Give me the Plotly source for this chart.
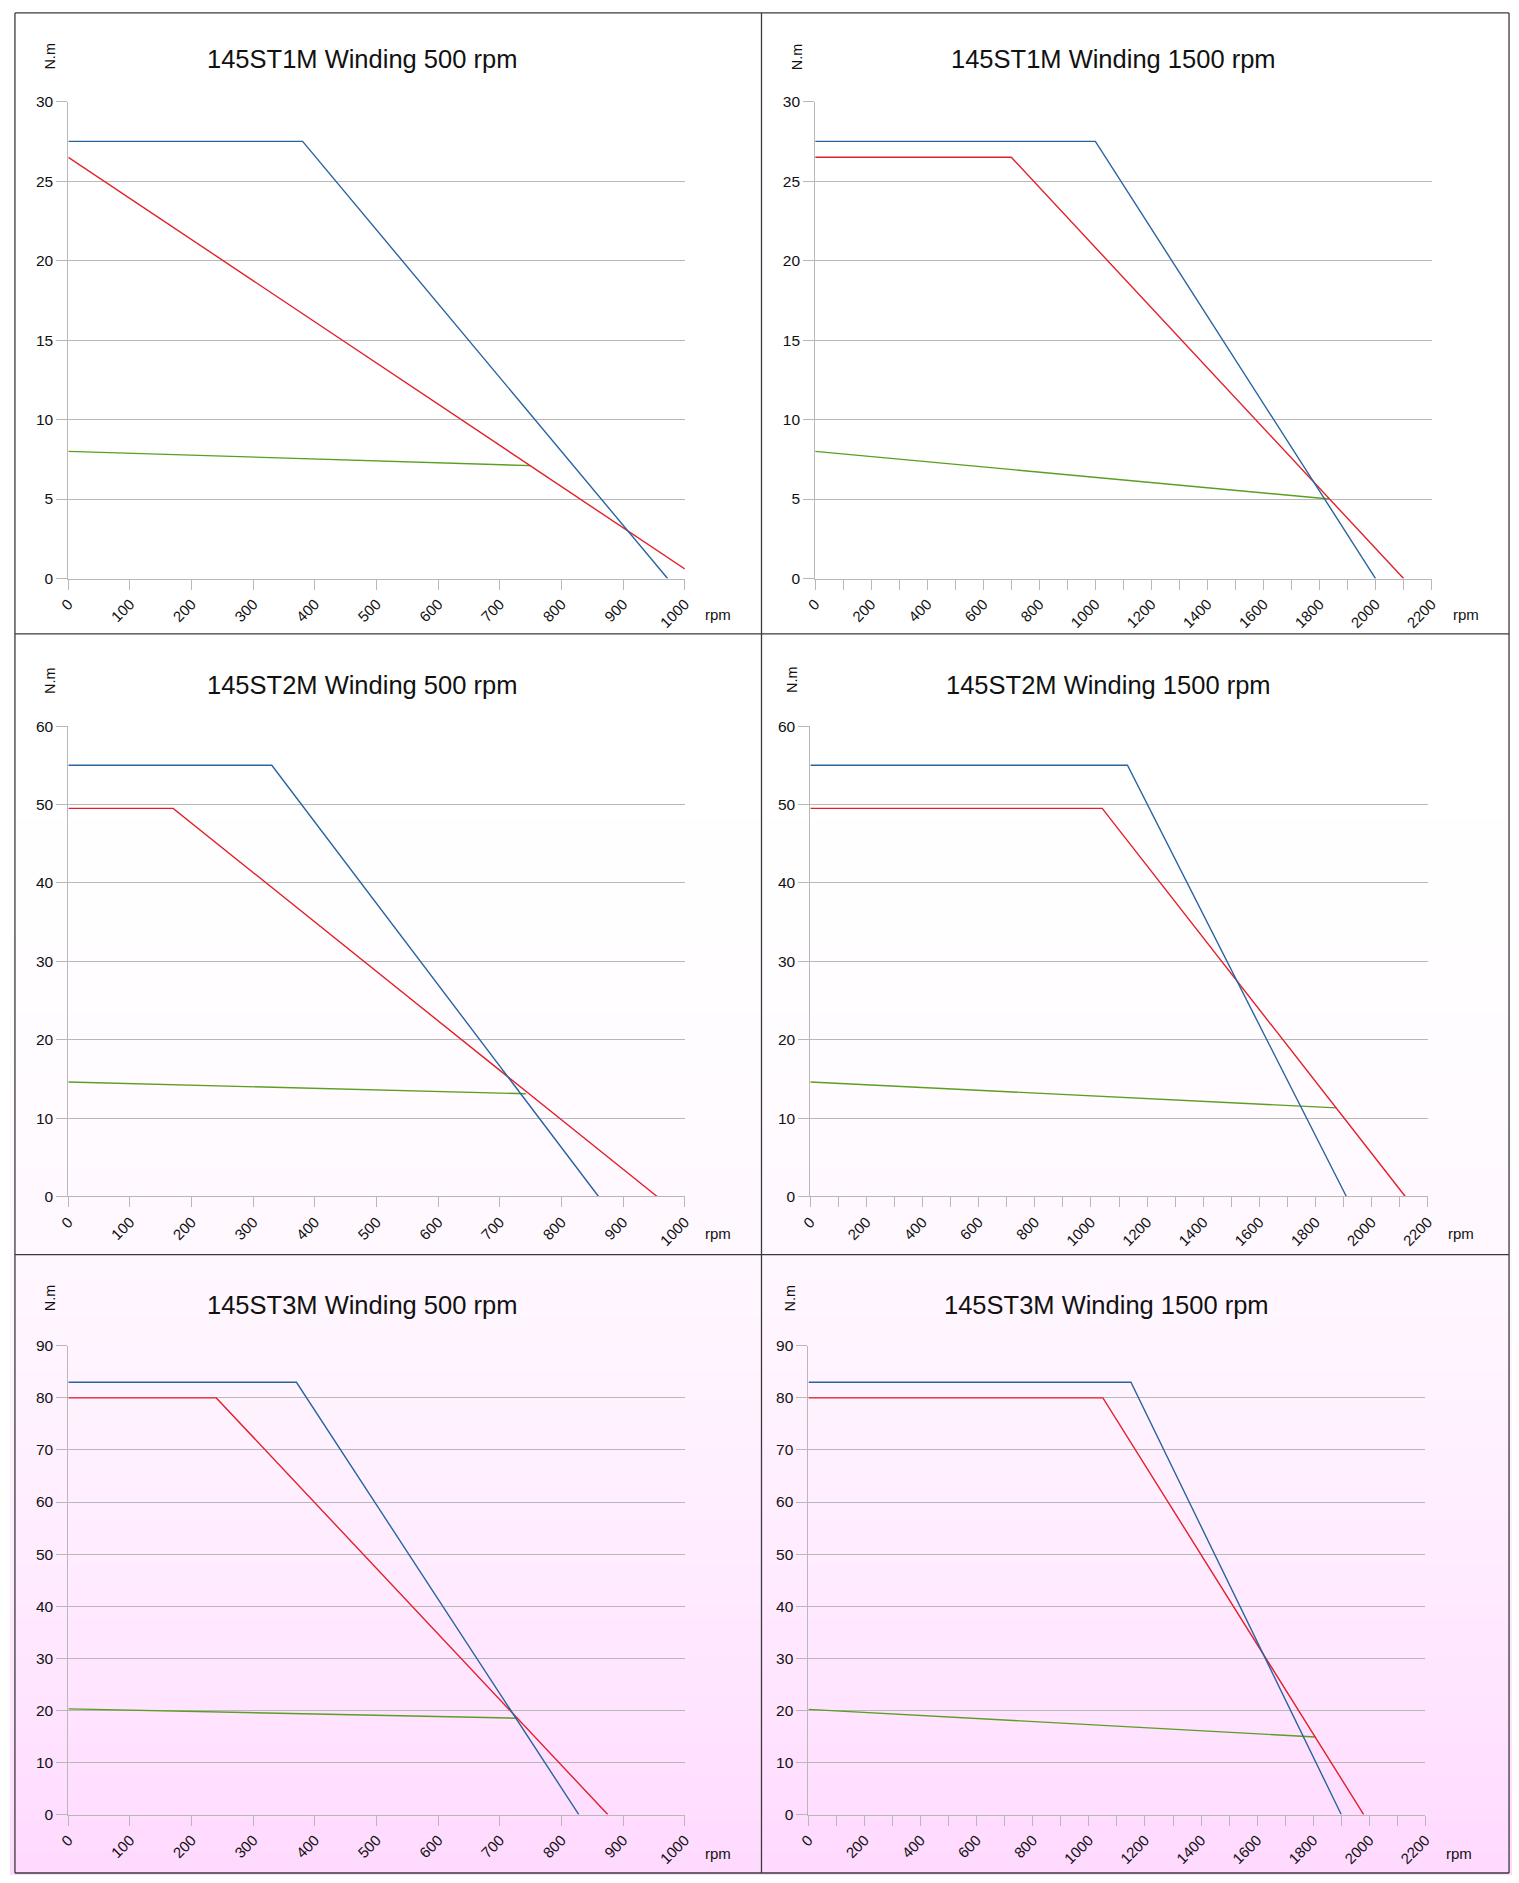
import plotly.graph_objects as go

W, H = 1519, 1883

# ---------------- data ----------------
titles = [
    "145ST1M Winding 500 rpm", "145ST1M Winding 1500 rpm",
    "145ST2M Winding 500 rpm", "145ST2M Winding 1500 rpm",
    "145ST3M Winding 500 rpm", "145ST3M Winding 1500 rpm",
]
x_max = [1000, 2200, 1000, 2200, 1000, 2200]
y_max = [30, 30, 60, 60, 90, 90]
y_step = [5, 5, 10, 10, 10, 10]

blue_x = [[0, 380, 972], [0, 1000, 2000], [0, 330, 860], [0, 1130, 1910], [0, 370, 828], [0, 1150, 1900]]
blue_y = [[27.5, 27.5, 0], [27.5, 27.5, 0], [55, 55, 0], [55, 55, 0], [83, 83, 0], [83, 83, 0]]
red_x = [[0, 1000], [0, 700, 2100], [0, 170, 955], [0, 1040, 2120], [0, 240, 875], [0, 1050, 1980]]
red_y = [[26.5, 0.6], [26.5, 26.5, 0], [49.5, 49.5, 0], [49.5, 49.5, 0], [80, 80, 0], [80, 80, 0]]
green_x = [[0, 750], [0, 1835], [0, 742], [0, 1875], [0, 728], [0, 1808]]
green_y = [[8, 7.1], [8, 5], [14.6, 13.1], [14.6, 11.3], [20.3, 18.5], [20.2, 14.9]]

x_unit = "rpm"
y_unit = "N.m"

# ---------------- layout helpers (pixel boxes) ----------------
def px(x):
    return x / W

def py(y):
    return 1 - y / H

# plot boxes: (left, right, top, bottom) in pixels
boxes = [
    (59, 682.5, 93.5, 574.7), (814.3, 1437.7, 93.5, 574.7),
    (59, 682.5, 723.6, 1198.3), (809.4, 1433.8, 723.6, 1198.3),
    (59, 682.5, 1349, 1822), (807.5, 1431.4, 1349, 1822),
]
title_pos = [(356, 50), (1116, 50), (356, 682), (1111, 682), (356, 1308), (1109, 1308)]
nm_pos = [(40.5, 48), (795.5, 48), (40.5, 678), (791, 677), (40.5, 1301), (789, 1301)]
rpm_pos = [(716, 611), (1472, 611), (716, 1236), (1467, 1236), (716, 1861), (1465, 1861)]

FONT = "Liberation Sans, Arial, sans-serif"
GRID = "#b8b8b8"
BLUE = "#2a64a0"
RED = "#e3202a"
GREEN = "#5a9e22"

fig = go.Figure()
annotations = []
shapes = []

# background gradient (white top rows fading to pink at bottom)
n_strips = 160
y0p, y1p = 630, H
for k in range(n_strips):
    a = y0p + (y1p - y0p) * k / n_strips
    b = y0p + (y1p - y0p) * (k + 1) / n_strips + 0.6
    t = ((a + b) / 2 - y0p) / (y1p - y0p)
    g = int(round(255 - 38 * t ** 2.3))
    shapes.append(dict(type="rect", xref="paper", yref="paper", layer="below",
                       x0=0, x1=1, y0=py(min(b, H)), y1=py(a),
                       fillcolor=f"rgb(255,{g},255)", line=dict(width=0)))

for i in range(6):
    sfx = "" if i == 0 else str(i + 1)
    xa, ya = "x" + sfx, "y" + sfx
    for xs, ys, col in ((green_x[i], green_y[i], GREEN), (red_x[i], red_y[i], RED), (blue_x[i], blue_y[i], BLUE)):
        fig.add_trace(go.Scatter(x=xs, y=ys, mode="lines", line=dict(color=col, width=1.4),
                                 xaxis=xa, yaxis=ya, showlegend=False, hoverinfo="skip"))
    l, r, t_, b_ = boxes[i]
    big = x_max[i] > 1000
    xaxis = dict(domain=[px(l), px(r)], range=[0, x_max[i]], anchor=ya,
                 dtick=200 if big else 100, tick0=0, tickangle=-45,
                 ticks="outside", ticklen=10, tickcolor=GRID, tickwidth=1,
                 showline=True, linecolor=GRID, linewidth=1,
                 showgrid=False, zeroline=False,
                 tickfont=dict(family=FONT, size=15, color="#111"))
    if big:
        xaxis["minor"] = dict(dtick=100, tick0=0, ticks="outside", ticklen=10,
                              tickcolor=GRID, tickwidth=1, showgrid=False)
    yaxis = dict(domain=[py(b_), py(t_)], range=[0, y_max[i]], anchor=xa,
                 dtick=y_step[i], tick0=0,
                 ticks="outside", ticklen=11, tickcolor=GRID, tickwidth=1,
                 showline=True, linecolor=GRID, linewidth=1,
                 showgrid=True, gridcolor=GRID, gridwidth=1, zeroline=False,
                 tickfont=dict(family=FONT, size=15.5, color="#111"))
    fig.update_layout(**{"xaxis" + sfx: xaxis, "yaxis" + sfx: yaxis})

    tx, ty = title_pos[i]
    annotations.append(dict(text=titles[i], xref="paper", yref="paper", x=px(tx), y=py(ty),
                            xanchor="center", yanchor="middle", showarrow=False,
                            font=dict(family=FONT, size=25.5, color="#111")))
    nx, ny = nm_pos[i]
    annotations.append(dict(text=y_unit, xref="paper", yref="paper", x=px(nx), y=py(ny),
                            xanchor="center", yanchor="middle", showarrow=False, textangle=-90,
                            font=dict(family=FONT, size=14.5, color="#111")))
    rx, ry = rpm_pos[i]
    annotations.append(dict(text=x_unit, xref="paper", yref="paper", x=px(rx), y=py(ry),
                            xanchor="center", yanchor="middle", showarrow=False,
                            font=dict(family=FONT, size=15, color="#111")))

# panel borders
BORDER = "#3a3a3a"
for (x0, y0, x1, y1) in [(5, 4, 1516, 4), (5, 1881, 1516, 1881), (5, 4, 5, 1881), (1516, 4, 1516, 1881),
                         (760, 4, 760, 1881), (5, 630.5, 1516, 630.5), (5, 1257, 1516, 1257)]:
    shapes.append(dict(type="line", xref="paper", yref="paper", layer="above",
                       x0=px(x0), x1=px(x1), y0=py(y0), y1=py(y1),
                       line=dict(color=BORDER, width=1.3)))

fig.update_layout(width=W, height=H, margin=dict(l=0, r=0, t=0, b=0),
                  paper_bgcolor="white", plot_bgcolor="rgba(0,0,0,0)",
                  annotations=annotations, shapes=shapes, showlegend=False,
                  font=dict(family=FONT))

fig.write_html("out.html", config={"displayModeBar": False},
               post_script="document.body.style.margin='0';document.body.style.overflow='hidden';")
